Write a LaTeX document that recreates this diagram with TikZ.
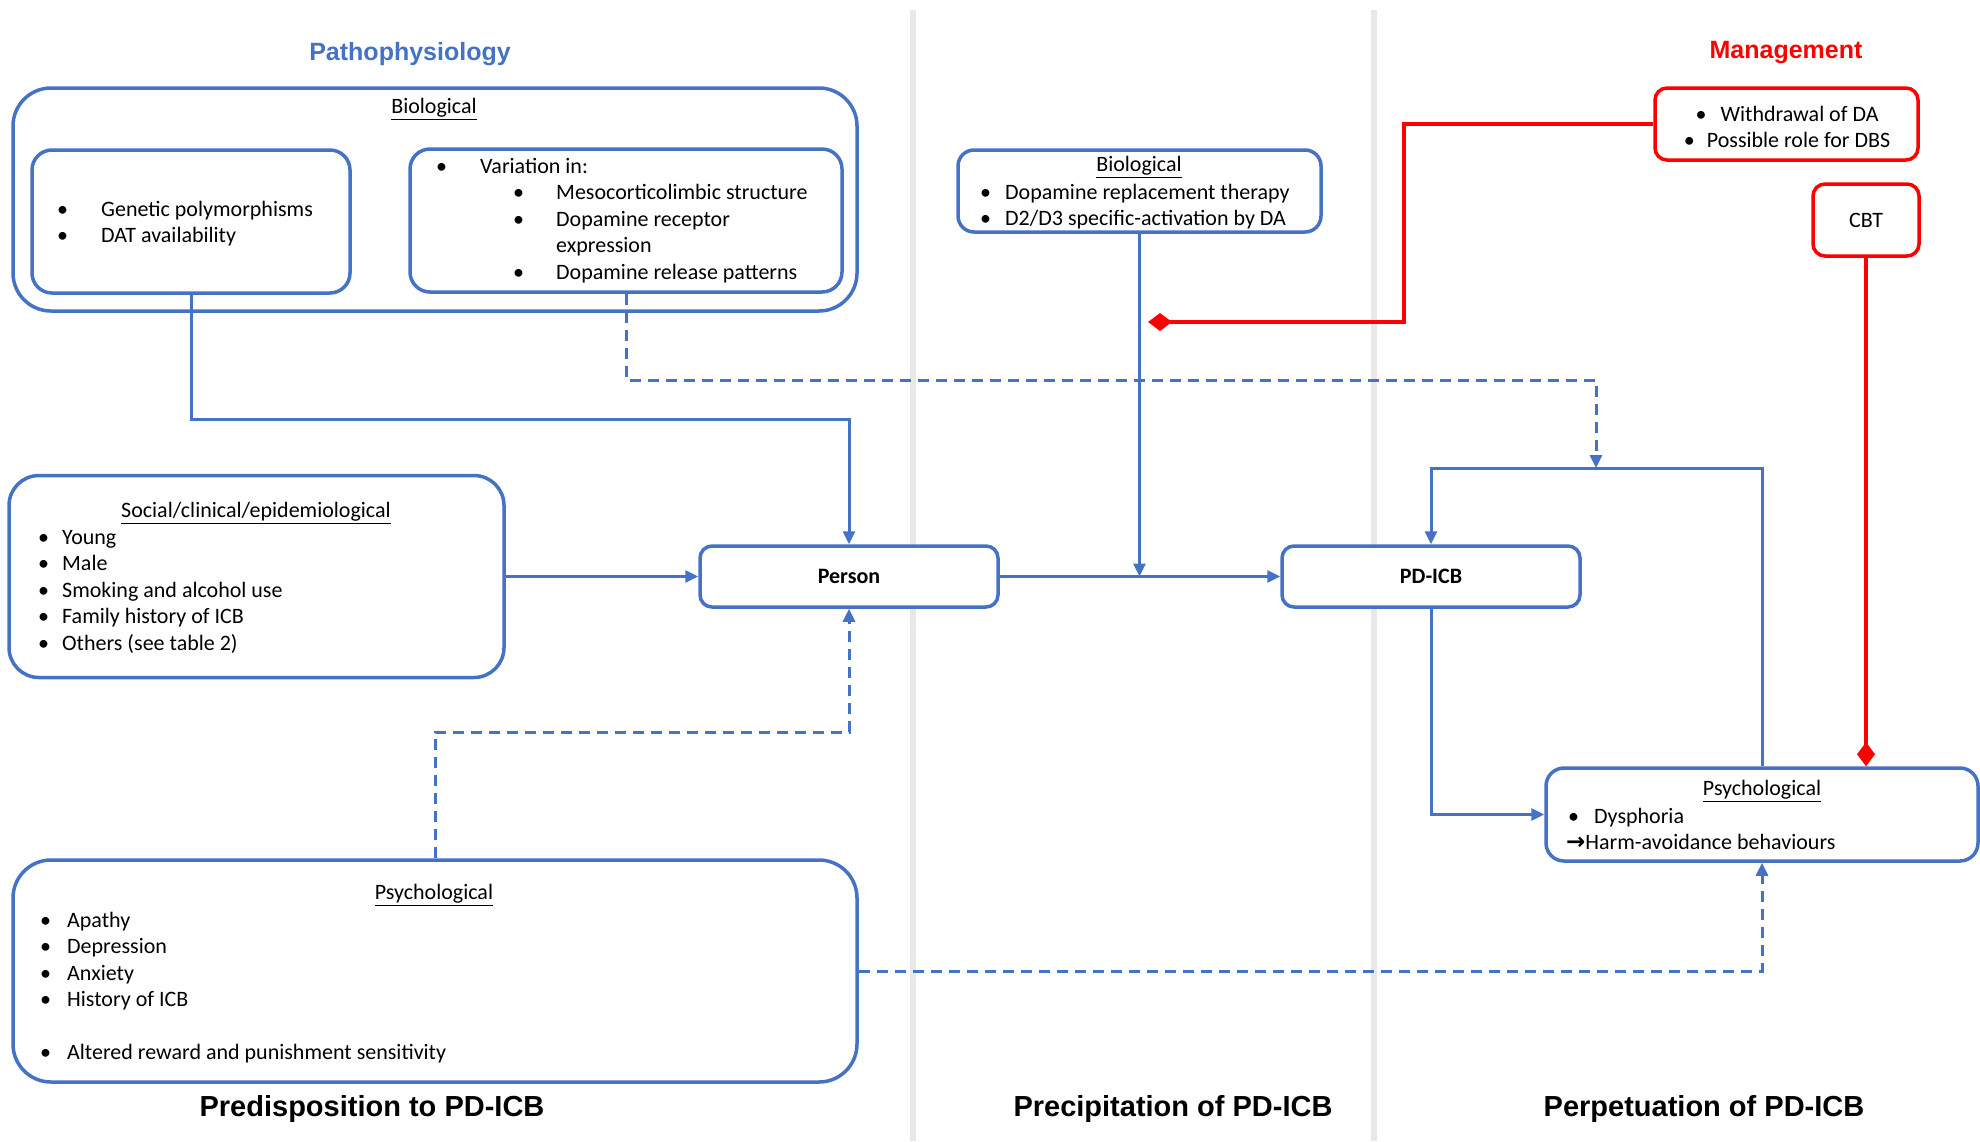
\documentclass[tikz,border=0pt]{standalone}
\usepackage{fontspec}
\setmainfont{Carlito}
\newfontfamily\headfont{Liberation Sans}
\newfontfamily\symfont{DejaVu Sans}
\usepackage{tikz}
\usetikzlibrary{arrows.meta,positioning}
\definecolor{pblue}{HTML}{4472C4}
\definecolor{pred}{HTML}{FF0000}
\definecolor{sepgrey}{HTML}{E8E8E8}
\newcommand{\bpt}[2][24pt]{\makebox[#1][l]{\textbullet}#2}

\begin{document}
\begin{tikzpicture}[x=1pt, y=-1pt,
  box/.style={draw=pblue, line width=3.5pt, rounded corners=#1, inner sep=0pt, fill=white},
  box/.default=14pt,
  mbox/.style={draw=pred, line width=3.5pt, rounded corners=12pt, inner sep=0pt, fill=white},
  txt/.style={inner sep=0pt, align=left, font=\fontsize{22}{26.5}\selectfont},
  lst/.style={txt, anchor=north west},
  link/.style={draw=pblue, line width=3pt, -{Triangle[length=13pt,width=12pt]}},
  dlink/.style={link, dash pattern=on 11pt off 7pt},
  mlink/.style={draw=pred, line width=3.5pt, -{Diamond[length=24pt,width=18pt]}},
  head/.style={inner sep=0pt, font=\headfont\bfseries\fontsize{29}{34}\selectfont},
  sep/.style={draw=sepgrey, line width=6pt}]
\useasboundingbox (0,0) rectangle (1980,1141);

% column separators
\draw[sep] (913,10) -- (913,1141);
\draw[sep] (1374,10) -- (1374,1141);

% headings
\node[head, font=\headfont\bfseries\fontsize{25}{30}\selectfont, text=pblue] (patho) at (410,54) {Pathophysiology};
\node[head, font=\headfont\bfseries\fontsize{25}{30}\selectfont, text=pred] (mgmt) at (1786,53) {Management};
\node[head] (predisp) at (372,1109) {Predisposition to PD-ICB};
\node[head] (precip) at (1173,1109) {Precipitation of PD-ICB};
\node[head] (perpet) at (1704,1109) {Perpetuation of PD-ICB};

% predisposition
\node[box=38pt, minimum width=844pt, minimum height=223pt] (bioOuter) at (435,199.5) {};
\node[txt] (bioOuterLbl) at (434,109) {\underline{Biological}};
\node[box=20pt, minimum width=318pt, minimum height=143pt] (bioGen) at (191,221.5) {};
\node[lst] (bioGenTxt) at (57,201) {\bpt[44pt]{Genetic polymorphisms}\\
  \bpt[44pt]{DAT availability}};
\node[box=20pt, minimum width=432pt, minimum height=143pt] (bioVar) at (626,220.5) {};
\node[lst] (bioVarTxt) at (436,158) {\bpt[44pt]{Variation in:}\\
  \hspace*{77pt}\bpt[43pt]{Mesocorticolimbic structure}\\
  \hspace*{77pt}\bpt[43pt]{Dopamine receptor}\\
  \hspace*{120pt}expression\\
  \hspace*{77pt}\bpt[43pt]{Dopamine release patterns}};

\node[box=30pt, minimum width=495pt, minimum height=202pt] (social) at (256.5,576.5) {};
\node[txt] (socialLbl) at (256,513) {\underline{Social/clinical/epidemiological}};
\node[lst] (socialTxt) at (38,530) {\bpt{Young}\\ \bpt{Male}\\ \bpt{Smoking and alcohol use}\\
  \bpt{Family history of ICB}\\ \bpt{Others (see table 2)}};

\node[box=38pt, minimum width=844pt, minimum height=222pt] (psyPred) at (435,971) {};
\node[txt] (psyPredLbl) at (434,895) {\underline{Psychological}};
\node[lst] (psyPredTxt) at (40,912) {\bpt[27pt]{Apathy}\\ \bpt[27pt]{Depression}\\
  \bpt[27pt]{Anxiety}\\ \bpt[27pt]{History of ICB}\\[26.5pt]
  \bpt[27pt]{Altered reward and punishment sensitivity}};

\node[box=12pt, minimum width=298pt, minimum height=61pt, txt, font=\fontsize{22}{26.5}\selectfont\bfseries] (person) at (849,576.5) {Person};

% precipitation
\node[box=16pt, minimum width=363pt, minimum height=82pt] (drt) at (1139.5,191) {};
\node[txt] (drtLbl) at (1139,167) {\underline{Biological}};
\node[lst] (drtTxt) at (980,184) {\bpt[25pt]{Dopamine replacement therapy}\\
  \bpt[25pt]{D2/D3 specific-activation by DA}};

% perpetuation
\node[box=12pt, minimum width=298pt, minimum height=61pt, txt, font=\fontsize{22}{26.5}\selectfont\bfseries] (pdicb) at (1431,576.5) {PD-ICB};
\node[box=18pt, minimum width=432pt, minimum height=93pt] (psyPerp) at (1762,814.5) {};
\node[txt] (psyPerpLbl) at (1762,791) {\underline{Psychological}};
\node[lst] (psyPerpTxt) at (1566,808) {\hspace*{2pt}\bpt[26pt]{Dysphoria}\\
  {\symfont\bfseries\fontsize{23}{26.5}\selectfont →}Harm-avoidance behaviours};

% management
\node[mbox, minimum width=263pt, minimum height=72pt] (withdraw) at (1786.5,124) {};
\node[txt, align=center] (withdrawTxt) at (1787,127) {\bpt[25pt]{Withdrawal of DA}\\
  \bpt[23pt]{Possible role for DBS}};
\node[mbox, minimum width=106pt, minimum height=72pt, txt] (cbt) at (1866,220) {CBT};

% connectors
\draw[link] (bioGen.south) |- (849,419) -- (person.north);
\draw[link] (social.east) -- (person.west);
\draw[dlink] (psyPred.north) |- (849,732) -- (person.south);
\draw[link] (person.east) -- (pdicb.west);
\draw[link] (drt.south) -- (drt.south |- person.east);
\coordinate (fbJoin) at (1596,468);
\draw[link] (psyPerp.north) |- (1431,468) -- (pdicb.north);
\draw[dlink] (bioVar.south) |- (1596,380) -- (fbJoin);
\draw[link] (pdicb.south) |- (psyPerp.west);
\draw[dlink] (psyPred.east) -| (psyPerp.south);
\coordinate (mgmtEnd) at (1148,322);
\draw[mlink] (withdraw.west) -| (1404,322) -- (mgmtEnd);
\draw[mlink] (cbt.south) -- (cbt.south |- psyPerp.north);
\end{tikzpicture}
\end{document}
